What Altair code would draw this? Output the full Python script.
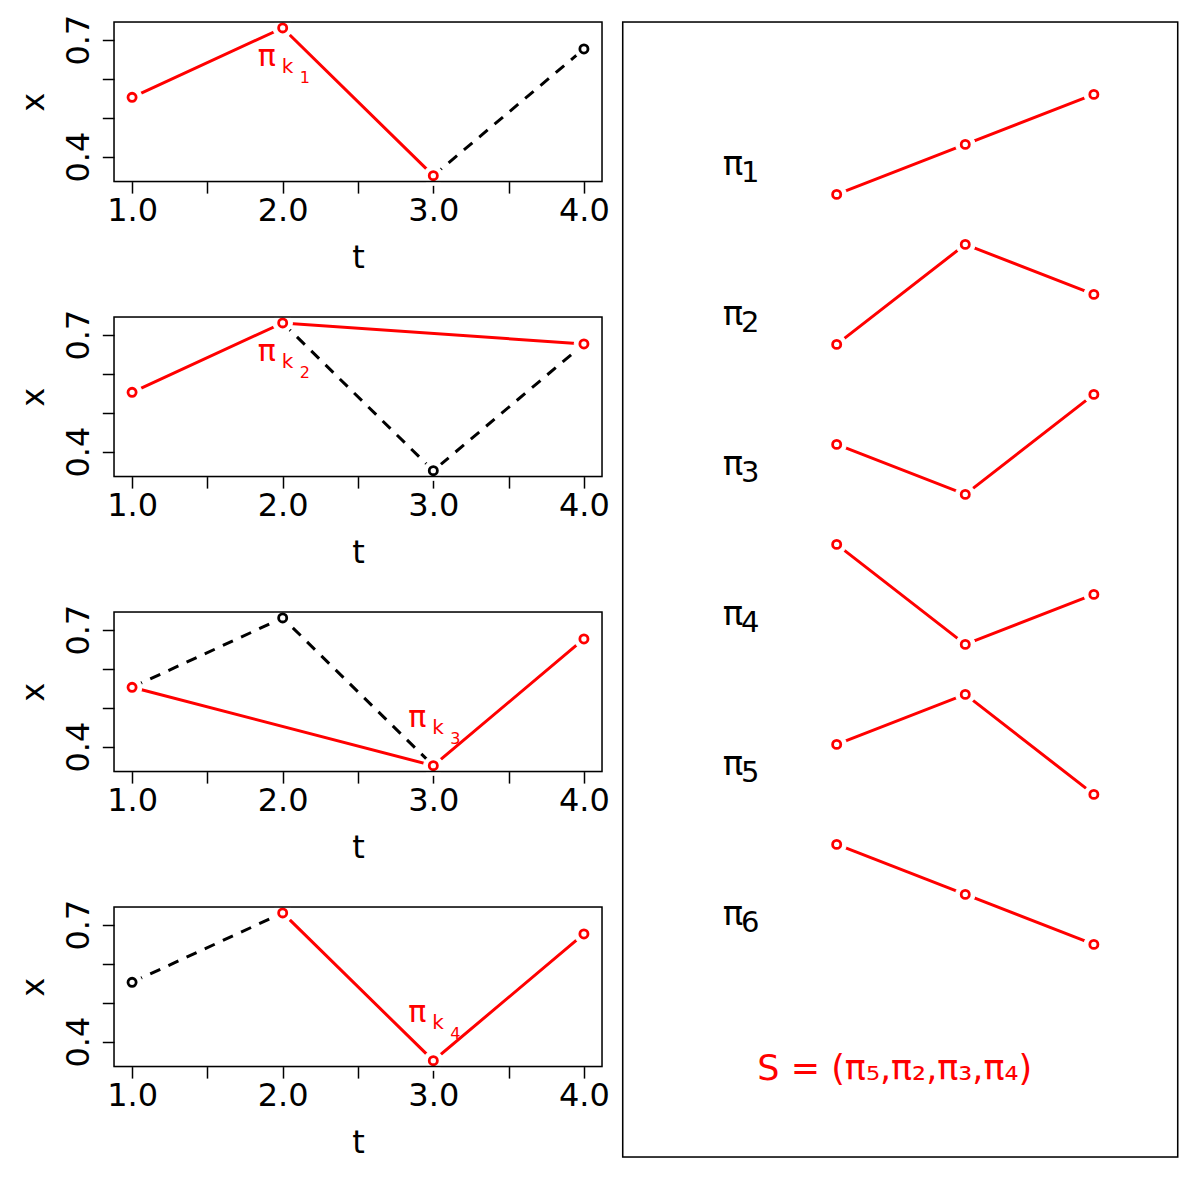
import json
import altair as alt
import pandas as pd

# ---------------- data ----------------
t_vals = [1, 2, 3, 4]
x_vals = [0.552, 0.730, 0.351, 0.676]

red_paths = [[1, 2, 3], [1, 2, 4], [1, 3, 4], [2, 3, 4]]
black_paths = [[3, 4], [2, 3, 4], [1, 2, 3], [1, 2]]
black_points = [[4], [3], [2], [1]]
label_t = [2.0, 2.0, 3.0, 3.0]
label_x = [0.634, 0.634, 0.452, 0.452]
label_sub = ["1", "2", "3", "4"]

x_ticks = [1.0, 1.5, 2.0, 2.5, 3.0, 3.5, 4.0]
x_tick_labels = ["1.0", "2.0", "3.0", "4.0"]
y_ticks = [0.4, 0.5, 0.6, 0.7]
y_tick_labels = ["0.4", "0.7"]
t_domain = [0.88, 4.12]
x_domain = [0.3358, 0.7452]

pattern_names = ["1", "2", "3", "4", "5", "6"]
pattern_ranks = [[1, 2, 3], [1, 3, 2], [2, 1, 3], [3, 1, 2], [2, 3, 1], [3, 2, 1]]
pattern_pos = [1, 2, 3]
pattern_label_pos = 0.194
pattern_label_y = 1.382
selection_text = "S = (π₅,π₂,π₃,π₄)"
selection_pos = 1.452
selection_y = -16.718
pos_domain = [-0.664, 3.652]
level_domain = [-18.252, 4.448]

# ---------------- style ----------------
RED = "#ff0000"
FONT = "DejaVu Sans"
W, H = 488, 159.6
RW, RH = 555, 1135
LW = 3
PT_SIZE = 66
PT_STROKE = 2.8
HALO = 380
HALO_COLOR = "white"

val = dict(zip(t_vals, x_vals))


def df_for(ts):
    return pd.DataFrame({"t": ts, "x": [val[t] for t in ts]})


def expr_for(labels):
    return (f"indexof({json.dumps(labels)}, format(datum.value, '.1f')) >= 0"
            " ? format(datum.value, '.1f') : ''")


x_axis = alt.Axis(values=x_ticks, labelExpr=expr_for(x_tick_labels), title="t",
                  domain=False, grid=False, tickSize=11.5, tickWidth=1.5, tickColor="black",
                  labelFont=FONT, labelFontSize=32, labelColor="black", labelFlush=False,
                  labelOverlap=False, labelBaseline="alphabetic", labelPadding=27.8,
                  titleFont=FONT, titleFontSize=32, titleFontWeight="normal", titleColor="black",
                  titleBaseline="alphabetic", titleAlign="center", titleX=W / 2, titleY=86)
y_axis = alt.Axis(values=y_ticks, labelExpr=expr_for(y_tick_labels), title="x",
                  domain=False, grid=False, tickSize=11.7, tickWidth=1.5, tickColor="black",
                  labelFont=FONT, labelFontSize=32, labelColor="black", labelFlush=False,
                  labelOverlap=False, labelAngle=270, labelAlign="center",
                  labelBaseline="alphabetic", labelPadding=13.4,
                  titleFont=FONT, titleFontSize=32, titleFontWeight="normal", titleColor="black",
                  titleAngle=270, titleBaseline="alphabetic", titleAlign="center",
                  titleX=-71, titleY=H / 2)

X = alt.X("t:Q", scale=alt.Scale(domain=t_domain, nice=False, zero=False), axis=x_axis)
Y = alt.Y("x:Q", scale=alt.Scale(domain=x_domain, nice=False, zero=False), axis=y_axis)


def frame(w, h):
    return alt.Chart(pd.DataFrame({"f": [0]})).mark_rect(
        fillOpacity=0, stroke="black", strokeWidth=1.5
    ).encode(x=alt.value(0), x2=alt.value(w), y=alt.value(0), y2=alt.value(h))


def halo_layer(df, x, y):
    return alt.Chart(df).mark_point(
        shape="circle", filled=True, fill=HALO_COLOR, stroke=HALO_COLOR, strokeWidth=1,
        size=HALO, opacity=1, fillOpacity=1, strokeOpacity=1
    ).encode(x=x, y=y)


def panel(i):
    red_ts = red_paths[i]
    blk_ts = black_paths[i]
    blk_pts = black_points[i]
    red_pts = [t for t in t_vals if t not in blk_pts]
    lab = pd.DataFrame({"t": [label_t[i]], "x": [label_x[i]], "sub": [label_sub[i]]})

    black_line = alt.Chart(df_for(blk_ts)).mark_line(
        color="black", strokeWidth=LW, strokeDash=[11, 9]).encode(x=X, y=Y)
    red_line = alt.Chart(df_for(red_ts)).mark_line(
        color=RED, strokeWidth=LW).encode(x=X, y=Y)
    halo = halo_layer(df_for(t_vals), X, Y)
    red_p = alt.Chart(df_for(red_pts)).mark_point(
        shape="circle", filled=False, color=RED, size=PT_SIZE, strokeWidth=PT_STROKE, opacity=1
    ).encode(x=X, y=Y)
    blk_p = alt.Chart(df_for(blk_pts)).mark_point(
        shape="circle", filled=False, color="black", size=PT_SIZE, strokeWidth=PT_STROKE, opacity=1
    ).encode(x=X, y=Y)
    pi_t = alt.Chart(lab).mark_text(
        text="π", font=FONT, fontSize=30, color=RED, align="center",
        baseline="alphabetic", dx=-16, dy=1).encode(x=X, y=Y)
    k_t = alt.Chart(lab).mark_text(
        text="k", font=FONT, fontSize=20, color=RED, align="left",
        baseline="alphabetic", dx=-1, dy=8).encode(x=X, y=Y)
    s_t = alt.Chart(lab).mark_text(
        font=FONT, fontSize=16, color=RED, align="left",
        baseline="alphabetic", dx=17, dy=18).encode(x=X, y=Y, text="sub:N")
    return alt.layer(black_line, red_line, halo, red_p, blk_p, pi_t, k_t, s_t,
                     frame(W, H)).properties(width=W, height=H)


left = alt.vconcat(*[panel(i) for i in range(4)], spacing=135, bounds="flush")

# ---------------- right panel ----------------
rows = []
for i, (name, ranks) in enumerate(zip(pattern_names, pattern_ranks)):
    for p, r in zip(pattern_pos, ranks):
        rows.append({"pat": name, "pos": p, "lvl": r - 3 * i})
pat_df = pd.DataFrame(rows)
lab_df = pd.DataFrame({"pat": pattern_names,
                       "pos": [pattern_label_pos] * len(pattern_names),
                       "lvl": [pattern_label_y - 3 * i for i in range(len(pattern_names))]})
sel_df = pd.DataFrame({"s": [selection_text], "pos": [selection_pos], "lvl": [selection_y]})

RX = alt.X("pos:Q", scale=alt.Scale(domain=pos_domain, nice=False, zero=False), axis=None)
RY = alt.Y("lvl:Q", scale=alt.Scale(domain=level_domain, nice=False, zero=False), axis=None)

r_line = alt.Chart(pat_df).mark_line(color=RED, strokeWidth=LW).encode(
    x=RX, y=RY, detail="pat:N", order="pos:Q")
r_halo = halo_layer(pat_df, RX, RY)
r_pts = alt.Chart(pat_df).mark_point(
    shape="circle", filled=False, color=RED, size=PT_SIZE, strokeWidth=PT_STROKE, opacity=1
).encode(x=RX, y=RY)
r_pi = alt.Chart(lab_df).mark_text(
    text="π", font=FONT, fontSize=34, color="black", align="center",
    baseline="alphabetic").encode(x=RX, y=RY)
r_num = alt.Chart(lab_df).mark_text(
    font=FONT, fontSize=29, color="black", align="left", baseline="alphabetic",
    dx=8, dy=7).encode(x=RX, y=RY, text="pat:N")
r_sel = alt.Chart(sel_df).mark_text(
    font=FONT, fontSize=35, color=RED, align="center", baseline="alphabetic"
).encode(x=RX, y=RY, text="s:N")

right = alt.layer(r_line, r_halo, r_pts, r_pi, r_num, r_sel, frame(RW, RH)).properties(
    width=RW, height=RH,
    title=alt.TitleParams(text=" ", fontSize=4, offset=4))

chart = alt.hconcat(left, right, spacing=10.7).properties(
    padding={"left": 8, "top": 4, "right": 0, "bottom": 0}
).configure_view(stroke=None).configure(background="white")

chart.save("out.html", embed_options={"renderer": "svg", "actions": False})
